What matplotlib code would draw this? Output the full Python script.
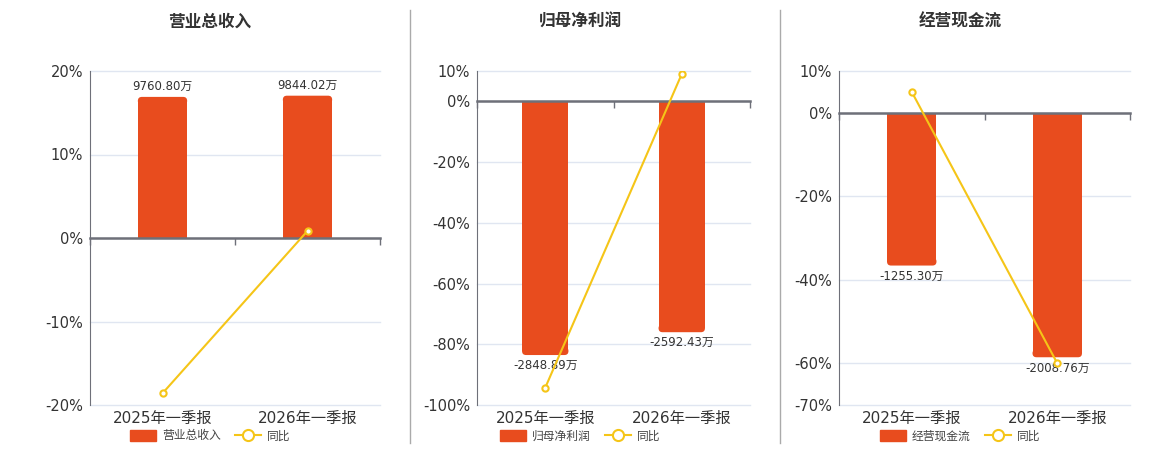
import numpy as np
import matplotlib
matplotlib.use("Agg")
import matplotlib.pyplot as plt
from matplotlib.patches import Patch, FancyBboxPatch
from matplotlib.lines import Line2D

plt.rcParams['font.family'] = ['DejaVu Sans', 'Noto Sans CJK SC']

periods = ["2025年一季报", "2026年一季报"]

titles = ["营业总收入", "归母净利润", "经营现金流"]
revenue = [9760.80, 9844.02]
net_profit = [-2848.89, -2592.43]
cash_flow = [-1255.30, -2008.76]
revenue_yoy = [-18.6, 0.85]
profit_yoy = [-94.3, 9.0]
cash_yoy = [5.0, -60.0]

bar_values = [revenue, net_profit, cash_flow]
yoy_values = [revenue_yoy, profit_yoy, cash_yoy]

# axis setup per panel: ticks, bar scale in 万 per %
yticks = [[-20, -10, 0, 10, 20],
          [-100, -80, -60, -40, -20, 0, 10],
          [-70, -60, -40, -20, 0, 10]]
bar_scale = [577.6, 34.1, 34.3]
axes_px = [(90, 380), (477, 750), (839, 1130)]
centers_px = [210, 580, 960]

BAR = "#e84c1e"
LINE = "#f5c518"
AXIS = "#6e7079"
GRID = "#e0e6f1"
TXT = "#333333"
RADIUS_PX = 4

W, H = 1160, 450
fig = plt.figure(figsize=(W / 100, H / 100), dpi=100)


def round_bar_ends(ax, bars, x_per_px, y_per_px):
    # round the far end of each bar, keep the zero end square
    rx, ry = RADIUS_PX * x_per_px, RADIUS_PX * y_per_px
    for rect in bars:
        x, w, h = rect.get_x(), rect.get_width(), rect.get_height()
        sign = 1 if h >= 0 else -1
        rect.set_height(h - sign * ry)
        end = h
        y0 = end - 2 * ry if sign > 0 else end
        cap = FancyBboxPatch((x, y0), w, 2 * ry,
                             boxstyle=f"round,pad=0,rounding_size={rx}",
                             mutation_aspect=y_per_px / x_per_px,
                             facecolor=BAR, edgecolor="none", zorder=2)
        ax.add_patch(cap)


for i in range(3):
    x0, x1 = axes_px[i]
    ax = fig.add_axes([x0 / W, (H - 405) / H, (x1 - x0) / W, 334 / H])
    ax2 = ax.twinx()
    ax.set_zorder(ax2.get_zorder() + 1)
    ax.patch.set_visible(False)

    ticks = yticks[i]
    lo, hi = ticks[0], ticks[-1]
    k = bar_scale[i]
    x = np.arange(len(periods))

    # bars on twin axis, grid there so bars cover it
    ax2.set_ylim(lo * k, hi * k)
    ax2.set_xlim(-0.5, len(periods) - 0.5)
    ax2.set_yticks(np.array(ticks) * k)
    ax2.grid(axis="y", color=GRID, linewidth=1)
    for gl in ax2.get_ygridlines():
        gl.set_clip_on(False)
    ax2.set_axisbelow(True)
    ax2.tick_params(right=False, labelright=False)
    bars = ax2.bar(x, bar_values[i], width=0.34, color=BAR, zorder=2)
    ax2.bar_label(bars, labels=[f"{v:.2f}万" for v in bar_values[i]],
                  padding=3, fontsize=8.5, color=TXT)
    round_bar_ends(ax2, bars, len(periods) / (x1 - x0), k * (hi - lo) / 334)
    for s in ax2.spines.values():
        s.set_visible(False)

    # yoy line on main axis
    ax.plot(x, yoy_values[i], color=LINE, linewidth=1.5, marker="o",
            markersize=4.5, markerfacecolor="white", markeredgecolor=LINE,
            markeredgewidth=1.5, zorder=5)
    ax.set_ylim(lo, hi)
    ax.set_yticks(ticks)
    ax.set_yticklabels([f"{t}%" for t in ticks])
    ax.set_xlim(-0.5, len(periods) - 0.5)
    ax.set_xticks(x)
    ax.set_xticklabels(periods)
    ax.tick_params(axis="both", length=0, labelsize=11, colors=TXT, pad=4)
    ax.tick_params(axis="y", labelsize=10.5, pad=5)
    for s in ["top", "right", "bottom"]:
        ax.spines[s].set_visible(False)
    ax.spines["left"].set_color(AXIS)

    # zero line with category ticks
    zero = ax.secondary_xaxis((0 - lo) / (hi - lo))
    zero.xaxis.set_ticks_position("bottom")
    zero.set_xticks(np.arange(-0.5, len(periods), 1.0))
    zero.set_xticklabels([])
    zero.tick_params(length=5, color=AXIS, width=1, direction="out")
    for s in zero.spines.values():
        s.set_color(AXIS)
        s.set_linewidth(1.8)

    fig.text(centers_px[i] / W, 1 - 22 / H, titles[i], ha="center", va="center",
             fontsize=12, fontweight="bold", color=TXT)

    handles = [Patch(facecolor=BAR, edgecolor=BAR),
               Line2D([], [], color=LINE, linewidth=1.5, marker="o", markersize=8,
                      markerfacecolor="white", markeredgewidth=1.5)]
    fig.legend(handles, [titles[i], "同比"], loc="center",
               bbox_to_anchor=(centers_px[i] / W, 1 - 436 / H), ncol=2,
               frameon=False, fontsize=8.5, handlelength=2.2, handleheight=1.1,
               columnspacing=1.2, handletextpad=0.5, labelcolor="#444444")

for xs in [410, 780]:
    fig.add_artist(Line2D([xs / W, xs / W], [1 - 10 / H, 1 - 443 / H],
                          color="#aaaaaa", linewidth=1))

fig.savefig("out.png", dpi=100)
